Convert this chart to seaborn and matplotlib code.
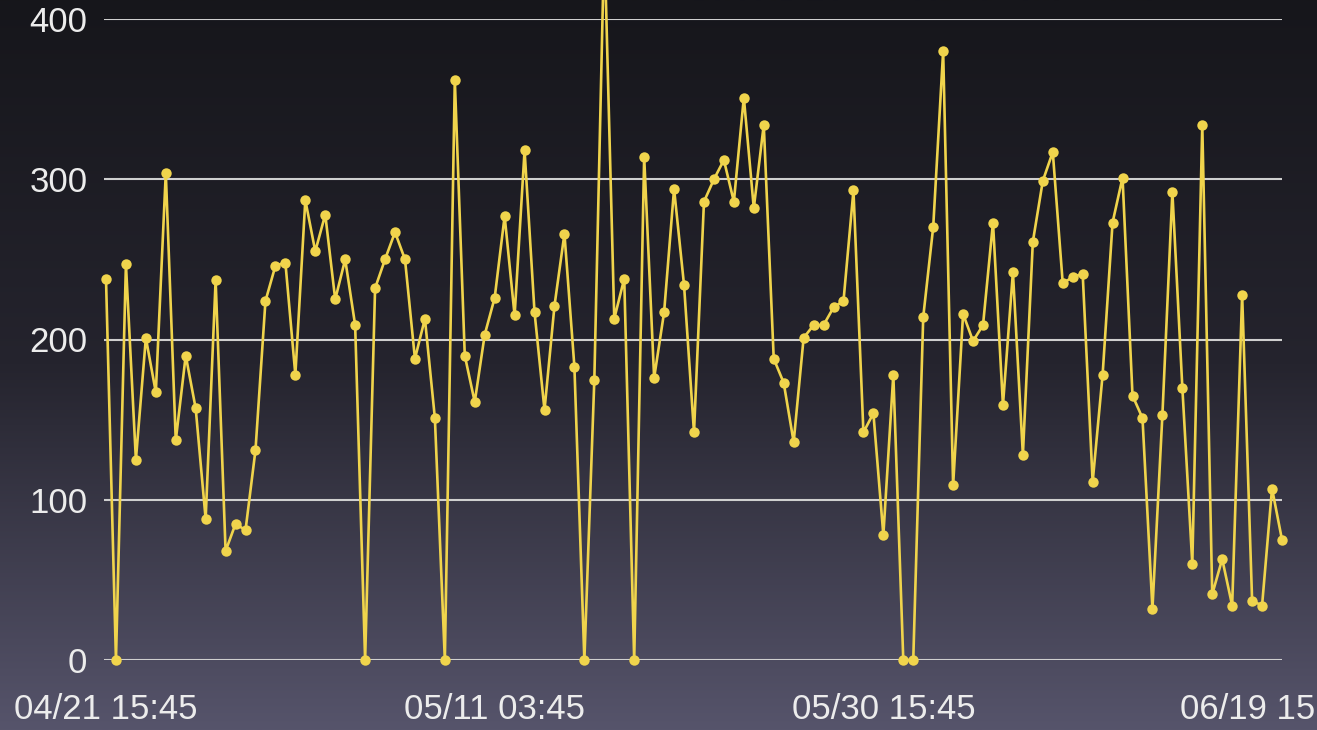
import numpy as np
import pandas as pd
import matplotlib
matplotlib.use("Agg")
import matplotlib.pyplot as plt
import seaborn as sns
from matplotlib.colors import LinearSegmentedColormap

# values, one point every 12 hours
values = [238, 0, 247, 125, 201, 167, 304, 137, 190, 157,
          88, 237, 68, 85, 81, 131, 224, 246, 248, 178,
          287, 255, 278, 225, 250, 209, 0, 232, 250, 267,
          250, 188, 213, 151, 0, 362, 190, 161, 203, 226,
          277, 215, 318, 217, 156, 221, 266, 183, 0, 175,
          450, 213, 238, 0, 314, 176, 217, 294, 234, 142,
          286, 300, 312, 286, 351, 282, 334, 188, 173, 136,
          201, 209, 209, 220, 224, 293, 142, 154, 78, 178,
          0, 0, 214, 270, 380, 109, 216, 199, 209, 273,
          159, 242, 128, 261, 299, 317, 235, 239, 241, 111,
          178, 273, 301, 165, 151, 32, 153, 292, 170, 60,
          334, 41, 63, 34, 228, 37, 34, 107, 75]
tick_pos = [0, 39, 78, 117]
tick_labels = ["04/21 15:45", "05/11 03:45", "05/30 15:45", "06/19 15:45"]
y_ticks = [0, 100, 200, 300, 400]

df = pd.DataFrame({"idx": np.arange(len(values)), "value": values})

sns.set_style("white")
plt.rcParams['font.family'] = ['Liberation Sans', 'DejaVu Sans']

dpi = 100
fig = plt.figure(figsize=(1317 / dpi, 730 / dpi), dpi=dpi)

# vertical gradient background
bg = fig.add_axes([0, 0, 1, 1], zorder=-10)
cmap = LinearSegmentedColormap.from_list("bg", ["#16161b", "#25242e", "#56546b"])
grad = np.linspace(0, 1, 256).reshape(-1, 1)
bg.imshow(grad, aspect="auto", cmap=cmap, extent=[0, 1, 0, 1], origin="upper")
bg.axis("off")

ax = fig.add_axes([104 / 1317, 1 - 660 / 730, (1282 - 104) / 1317, (660 - 19) / 730])
ax.set_facecolor("none")

sns.lineplot(data=df, x="idx", y="value", ax=ax, color="#f0d44c", linewidth=1.9,
             marker="o", markersize=7.5, markeredgewidth=0, zorder=5)
# the spike runs past the top of the plot, like the original
for ln in ax.lines:
    ln.set_clip_on(False)

ax.set_xlim(-0.2, 118)
ax.set_ylim(0, 400)
ax.set_yticks(y_ticks)
ax.set_xticks(tick_pos)
ax.set_xticklabels(tick_labels)
ax.tick_params(axis="both", length=0, labelsize=25, colors="#ececec")
ax.tick_params(axis="y", pad=12)
ax.tick_params(axis="x", pad=24)
ax.grid(axis="y", color="#cfcfcf", linewidth=1.5)
ax.grid(axis="x", visible=False)
ax.set_axisbelow(True)
for s in ax.spines.values():
    s.set_visible(False)
ax.set_xlabel("")
ax.set_ylabel("")

fig.savefig("out.png", dpi=dpi)
